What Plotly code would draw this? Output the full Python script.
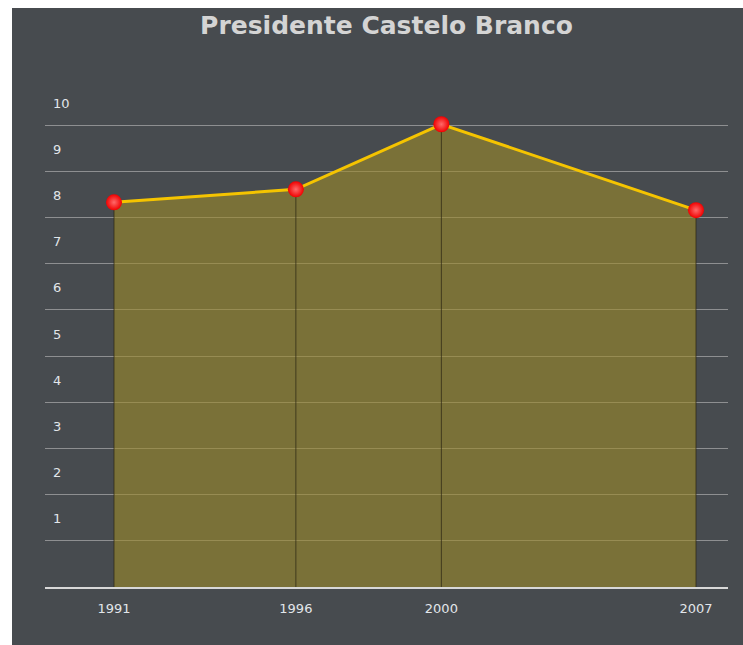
import plotly.graph_objects as go

# Series data
years = [1991, 1996, 2000, 2007]
values = [8.33, 8.61, 10.02, 8.16]
y_ticks = [1, 2, 3, 4, 5, 6, 7, 8, 9, 10]
y_tick_labels = [str(v) for v in y_ticks]
title_text = "Presidente Castelo Branco"

PANEL = "#474b4f"
W, H = 743, 645
ML, MR, MT, MB = 45, 15, 79, 58

fig = go.Figure()

# filled area under the series
fig.add_trace(go.Scatter(
    x=years, y=values, mode="lines", fill="tozeroy",
    fillcolor="rgba(157,138,42,0.6)",
    line=dict(color="rgba(0,0,0,0)", width=0),
    hoverinfo="skip", showlegend=False,
))

# drop lines from each point to the baseline
drop_x, drop_y = [], []
for xv, yv in zip(years, values):
    drop_x += [xv, xv, None]
    drop_y += [0, yv, None]
fig.add_trace(go.Scatter(
    x=drop_x, y=drop_y, mode="lines",
    line=dict(color="rgba(45,40,20,0.75)", width=1),
    hoverinfo="skip", showlegend=False,
))

# main line with glossy markers
fig.add_trace(go.Scatter(
    x=years, y=values, mode="lines+markers",
    line=dict(color="#f5c400", width=3),
    marker=dict(size=16, color="#f00000",
                gradient=dict(type="radial", color="#ff6a6a"),
                line=dict(width=0)),
    showlegend=False,
))

# dark panel behind the chart, leaving a thin white margin top-left
pw = W - ML - MR
ph = H - MT - MB
fig.add_shape(
    type="rect", xref="paper", yref="paper", layer="below",
    x0=(12 - ML) / pw, x1=(W - ML) / pw,
    y0=-MB / ph, y1=(H - MB - 8) / ph,
    fillcolor=PANEL, line=dict(width=0),
)

fig.update_layout(
    width=W, height=H,
    margin=dict(l=ML, r=MR, t=MT, b=MB, pad=0),
    paper_bgcolor="white",
    plot_bgcolor=PANEL,
    title=dict(text="<b>" + title_text + "</b>", x=0.5, xref="paper",
               y=1 - 25 / H, yanchor="middle",
               font=dict(family="DejaVu Sans", size=25, color="#d4d4d4")),
    font=dict(family="DejaVu Sans", size=14, color="#e2e6ea"),
    xaxis=dict(
        range=[1989.103, 2007.88],
        tickvals=years, ticktext=[str(y) for y in years],
        showgrid=False, zeroline=False,
        showline=True, linecolor="#d8d8d8", linewidth=2,
        ticks="", ticklabelstandoff=8,
        tickfont=dict(size=13, color="#e2e6ea"),
    ),
    yaxis=dict(
        range=[0, 11],
        tickvals=y_ticks, ticktext=y_tick_labels,
        showgrid=True, gridcolor="rgba(200,200,200,0.55)", gridwidth=1,
        zeroline=False, showline=False, ticks="",
        ticklabelposition="inside", ticklabelshift=-22, ticklabelstandoff=5,
        tickfont=dict(size=13, color="#e2e6ea"),
    ),
)

fig.write_html("out.html")
